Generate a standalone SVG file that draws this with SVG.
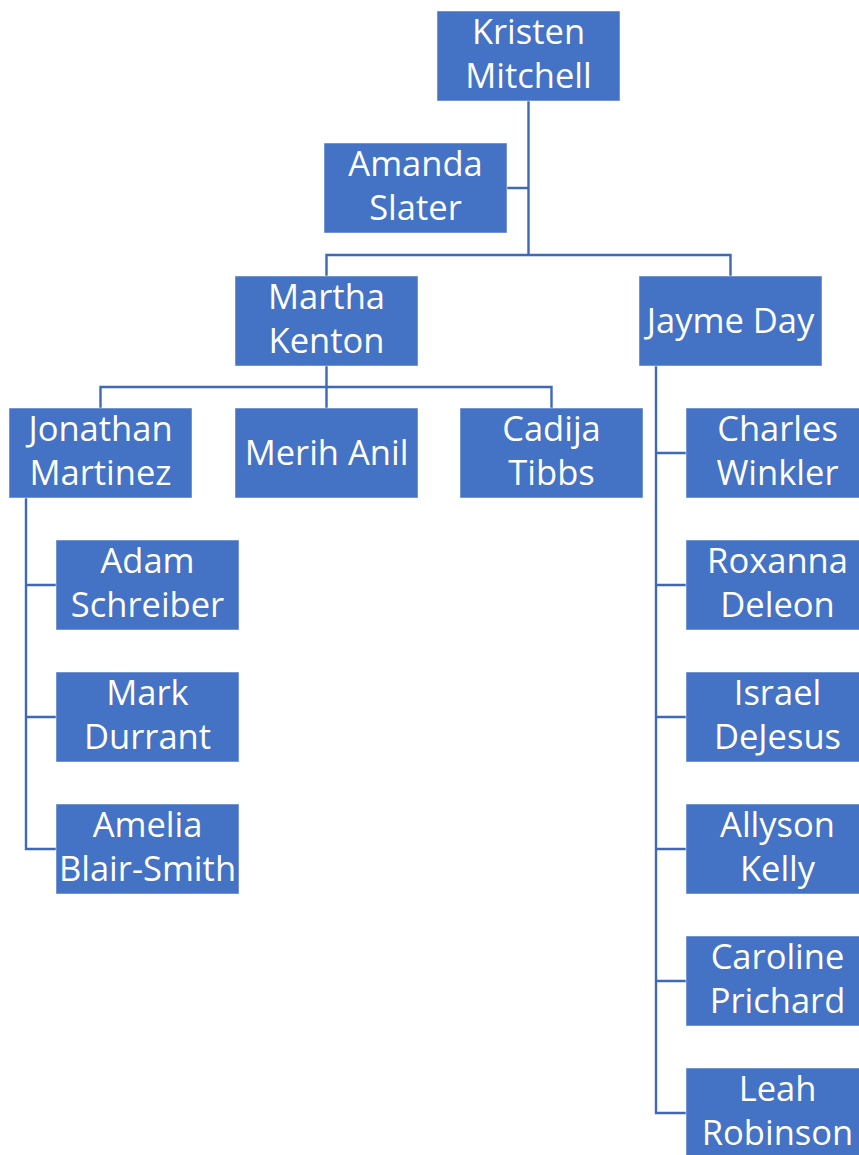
<svg xmlns="http://www.w3.org/2000/svg" width="859" height="1155" viewBox="0 0 859 1155">
<style>
.box{fill:#4472C4;stroke:#FFFFFF;stroke-opacity:0.5;stroke-width:1}
.t{font-family:"Open Sans","Liberation Sans",Arial,sans-serif;font-size:34.5px;fill:#FFFFFF;text-anchor:middle}
.c{fill:none;stroke:#3F68B5;stroke-width:2.4}
</style>
<rect width="859" height="1155" fill="#FFFFFF"/>
<g id="connectors">
<path class="c" d="M528.5,101 V255 M326.5,276 V255 H730.5 V276 M507,188 H528.5"/>
<path class="c" d="M326.5,366 V408 M100.5,408 V387 H551.5 V408"/>
<path class="c" d="M26,498 V849 H56 M26,585 H56 M26,717 H56"/>
<path class="c" d="M656,366 V1113 H686 M656,453 H686 M656,585 H686 M656,717 H686 M656,849 H686 M656,981 H686"/>
</g>
<g id="kristen"><rect class="box" x="437" y="11" width="183" height="90"/><text class="t" x="528.5" y="44">Kristen</text><text class="t" x="528.5" y="87.5">Mitchell</text></g>
<g id="amanda"><rect class="box" x="324" y="143" width="183" height="90"/><text class="t" x="415.5" y="176">Amanda</text><text class="t" x="415.5" y="219.5">Slater</text></g>
<g id="martha"><rect class="box" x="235" y="276" width="183" height="90"/><text class="t" x="326.5" y="309">Martha</text><text class="t" x="326.5" y="352.5">Kenton</text></g>
<g id="jayme"><rect class="box" x="639" y="276" width="183" height="90"/><text class="t" x="730.5" y="332.5">Jayme Day</text></g>
<g id="jonathan"><rect class="box" x="9" y="408" width="183" height="90"/><text class="t" x="100.5" y="441">Jonathan</text><text class="t" x="100.5" y="484.5">Martinez</text></g>
<g id="merih"><rect class="box" x="235" y="408" width="183" height="90"/><text class="t" x="326.5" y="464.5">Merih Anil</text></g>
<g id="cadija"><rect class="box" x="460" y="408" width="183" height="90"/><text class="t" x="551.5" y="441">Cadija</text><text class="t" x="551.5" y="484.5">Tibbs</text></g>
<g id="adam"><rect class="box" x="56" y="540" width="183" height="90"/><text class="t" x="147.5" y="573">Adam</text><text class="t" x="147.5" y="616.5">Schreiber</text></g>
<g id="mark"><rect class="box" x="56" y="672" width="183" height="90"/><text class="t" x="147.5" y="705">Mark</text><text class="t" x="147.5" y="748.5">Durrant</text></g>
<g id="amelia"><rect class="box" x="56" y="804" width="183" height="90"/><text class="t" x="147.5" y="837">Amelia</text><text class="t" x="147.5" y="880.5">Blair-Smith</text></g>
<g id="charles"><rect class="box" x="686" y="408" width="183" height="90"/><text class="t" x="777.5" y="441">Charles</text><text class="t" x="777.5" y="484.5">Winkler</text></g>
<g id="roxanna"><rect class="box" x="686" y="540" width="183" height="90"/><text class="t" x="777.5" y="573">Roxanna</text><text class="t" x="777.5" y="616.5">Deleon</text></g>
<g id="israel"><rect class="box" x="686" y="672" width="183" height="90"/><text class="t" x="777.5" y="705">Israel</text><text class="t" x="777.5" y="748.5">DeJesus</text></g>
<g id="allyson"><rect class="box" x="686" y="804" width="183" height="90"/><text class="t" x="777.5" y="837">Allyson</text><text class="t" x="777.5" y="880.5">Kelly</text></g>
<g id="caroline"><rect class="box" x="686" y="936" width="183" height="90"/><text class="t" x="777.5" y="969">Caroline</text><text class="t" x="777.5" y="1012.5">Prichard</text></g>
<g id="leah"><rect class="box" x="686" y="1068" width="183" height="90"/><text class="t" x="777.5" y="1101">Leah</text><text class="t" x="777.5" y="1144.5">Robinson</text></g>
</svg>
